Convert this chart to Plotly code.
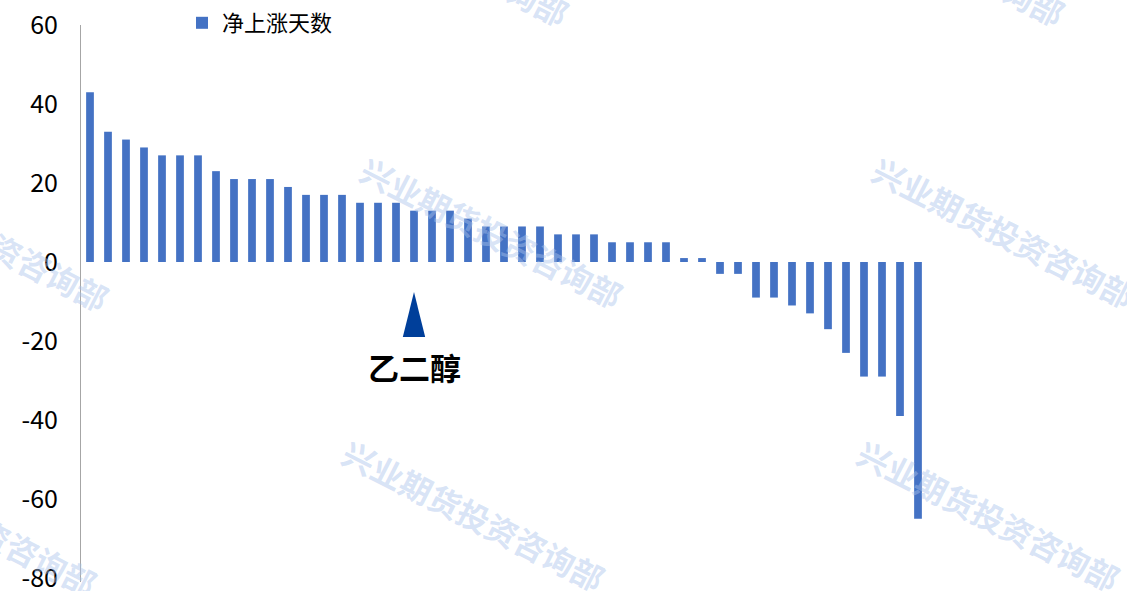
import plotly.graph_objects as go

values = [43, 33, 31, 29, 27, 27, 27, 23, 21, 21, 21, 19, 17, 17, 17, 15, 15, 15,
          13, 13, 13, 11, 9, 9, 9, 9, 7, 7, 7, 5, 5, 5, 5, 1, 1,
          -3, -3, -9, -9, -11, -13, -17, -23, -29, -29, -39, -65]
categories = [f"品种{i+1}" for i in range(len(values))]
highlight_index = 18
categories[highlight_index] = "乙二醇"
highlight_label = "乙二醇"
series_name = "净上涨天数"
y_ticks = [60, 40, 20, 0, -20, -40, -60, -80]
y_tick_text = ["60", "40", "20", "0", "-20", "-40", "-60", "-80"]

FONT = "Noto Sans CJK SC"
W, H = 1127, 591
L, R, T, B = 81, 200, 25, 9
PW, PH = W - L - R, H - T - B

fig = go.Figure()
fig.add_trace(go.Bar(
    x=categories, y=values, name=series_name,
    marker=dict(color="#4472C4", line=dict(width=0)),
    showlegend=True,
))

# highlight marker (tall narrow triangle) + label under the highlighted category
hx = highlight_index
fig.add_shape(type="path",
              path=f"M {hx-0.62},-19 L {hx+0.62},-19 L {hx},-7.6 Z",
              xref="x", yref="y", fillcolor="#003f9a", line=dict(width=0))
fig.add_annotation(x=categories[hx], y=-26.5, text=f"<b>{highlight_label}</b>",
                   showarrow=False, font=dict(family=FONT, size=31, color="#000000"))

# watermarks (page pixel centres converted to plot-area paper coords)
wm = "兴业期货投资咨询部"
for (px, py) in [(492, 232), (1004, 232), (474, 515), (989, 515), (-22, 235),
                 (-34, 520), (438, -50), (934, -50)]:
    fig.add_annotation(x=(px - L) / PW, y=(H - B - py) / PH, xref="paper", yref="paper",
                       xanchor="center", yanchor="middle",
                       text=f"<b>{wm}</b>", showarrow=False, textangle=27,
                       font=dict(family=FONT, size=32, color="rgba(170,195,235,0.45)"))

fig.update_layout(
    width=W, height=H,
    margin=dict(l=L, r=R, t=T, b=B, autoexpand=False),
    paper_bgcolor="white", plot_bgcolor="white",
    bargap=0.57,
    font=dict(family=FONT, color="#000000"),
    legend=dict(orientation="h", x=(182 - L) / PW, y=(H - B - 23) / PH,
                xanchor="left", yanchor="middle",
                font=dict(family=FONT, size=22, color="#000000"),
                itemwidth=30, bgcolor="rgba(0,0,0,0)"),
    xaxis=dict(showticklabels=False, showgrid=False, zeroline=False, showline=False,
               ticks="", range=[-0.5, len(values) - 0.5], automargin=False),
    yaxis=dict(range=[-81, 60], tickvals=y_ticks, ticktext=y_tick_text,
               showgrid=False, zeroline=False, automargin=False,
               showline=True, linecolor="#a6a6a6", linewidth=1, ticks="",
               ticklabelstandoff=17, ticklabeloverflow="allow",
               tickfont=dict(family=FONT, size=25, color="#000000")),
)

fig.write_html("out.html", config={"displayModeBar": False},
               post_script="document.body.style.margin='0';document.body.style.overflow='hidden';")
